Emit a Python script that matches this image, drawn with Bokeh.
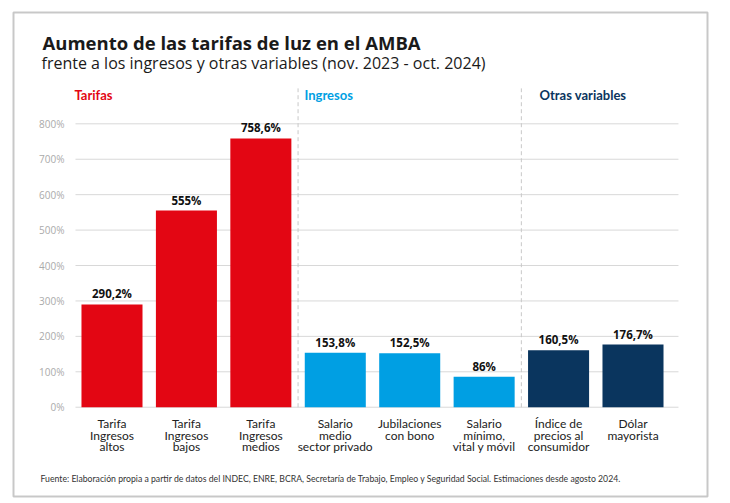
from bokeh.plotting import figure
from bokeh.models import (ColumnDataSource, Range1d, FixedTicker, Label,
                          BoxAnnotation, LinearAxis)
from bokeh.core.properties import value
from bokeh.embed import file_html
from bokeh.resources import INLINE

# ---- data ----
categories = [
    "Tarifa\nIngresos\naltos",
    "Tarifa\nIngresos\nbajos",
    "Tarifa\nIngresos\nmedios",
    "Salario\nmedio\nsector privado",
    "Jubilaciones\ncon bono",
    "Salario\nmínimo,\nvital y móvil",
    "Índice de\nprecios al\nconsumidor",
    "Dólar\nmayorista",
]
values = [290.2, 555.0, 758.6, 153.8, 152.5, 86.0, 160.5, 176.7]
value_labels = ["290,2%", "555%", "758,6%", "153,8%", "152,5%", "86%", "160,5%", "176,7%"]
groups = ["Tarifas", "Tarifas", "Tarifas", "Ingresos", "Ingresos", "Ingresos",
          "Otras variables", "Otras variables"]
y_ticks = [0, 100, 200, 300, 400, 500, 600, 700, 800]
y_tick_labels = ["0%", "100%", "200%", "300%", "400%", "500%", "600%", "700%", "800%"]

group_colors = {"Tarifas": "#E30613", "Ingresos": "#009FE3", "Otras variables": "#0A355E"}

LABEL_FONT = "Lato"
SANS = "Open Sans"

W, H = 730, 503
xs = list(range(len(categories)))
src = ColumnDataSource(dict(
    x=xs, value=values, label=value_labels,
    color=[group_colors[g] for g in groups],
))

# plot area edges (data units) used for grid lines / axis placement
X_LEFT, X_RIGHT = -0.4904, 7.611

p = figure(width=W, height=H,
           x_range=Range1d(-1.498, 8.310), y_range=Range1d(-271.8, 1148.1),
           output_backend="svg", toolbar_location=None,
           x_axis_type=None, y_axis_type=None,
           min_border_left=0, min_border_right=0,
           min_border_top=0, min_border_bottom=0)
p.title.visible = False
p.outline_line_color = None
p.background_fill_color = "white"
p.border_fill_color = "white"
p.xgrid.visible = False
p.ygrid.visible = False

# grid lines
p.segment(x0=[X_LEFT] * len(y_ticks), x1=[X_RIGHT] * len(y_ticks),
          y0=y_ticks, y1=y_ticks, line_color="#D8D8D8", line_width=1)

# separators between groups
p.segment(x0=[2.5, 5.5], x1=[2.5, 5.5], y0=[0, 0], y1=[900, 900],
          line_color="#C8C8C8", line_width=1, line_dash="4 3")

# axes fixed inside the frame
yax = LinearAxis(fixed_location=X_LEFT, ticker=FixedTicker(ticks=y_ticks),
                 major_label_overrides={t: l for t, l in zip(y_ticks, y_tick_labels)},
                 axis_line_color=None, major_tick_line_color=None,
                 minor_tick_line_color=None, major_label_standoff=5,
                 major_label_text_font=SANS, major_label_text_font_size="10px",
                 major_label_text_color="#AAAAAA")
p.add_layout(yax, "left")

xax = LinearAxis(fixed_location=0, ticker=FixedTicker(ticks=xs),
                 major_label_overrides={i: c for i, c in zip(xs, categories)},
                 axis_line_color=None, major_tick_line_color=None,
                 minor_tick_line_color=None, major_label_standoff=3,
                 major_label_text_font=LABEL_FONT, major_label_text_font_size="12px",
                 major_label_text_color="#222222", major_label_text_line_height=0.77)
p.add_layout(xax, "below")

# bars
p.vbar(x="x", top="value", width=0.82, fill_color="color", line_color=None, source=src)

# value labels
p.text(x="x", y="value", text="label", source=src, text_align="center",
       text_baseline="bottom", y_offset=-3,
       text_font=value(SANS), text_font_style="bold", text_font_size="11.5px",
       text_color="#111111")

# group headers
for hx, gname in ((74, "Tarifas"), (304, "Ingresos"), (539, "Otras variables")):
    p.add_layout(Label(x=hx, y=H - 94.5, x_units="screen", y_units="screen", text=gname,
                       text_font=LABEL_FONT, text_font_style="bold", text_font_size="13px",
                       text_color=group_colors[gname], text_baseline="alphabetic"))

# title, subtitle, footnote
p.add_layout(Label(x=42, y=H - 42, x_units="screen", y_units="screen",
                   text="Aumento de las tarifas de luz en el AMBA",
                   text_font=SANS, text_font_style="bold", text_font_size="18.5px",
                   text_color="#1A1A1A", text_baseline="alphabetic"))
p.add_layout(Label(x=41, y=H - 62, x_units="screen", y_units="screen",
                   text="frente a los ingresos y otras variables (nov. 2023 - oct. 2024)",
                   text_font=SANS, text_font_size="16px",
                   text_color="#1A1A1A", text_baseline="alphabetic"))
p.add_layout(Label(x=40, y=H - 477.5, x_units="screen", y_units="screen",
                   text="Fuente: Elaboración propia a partir de datos del INDEC, ENRE, BCRA, "
                        "Secretaría de Trabajo, Empleo y Seguridad Social. Estimaciones desde agosto 2024.",
                   text_font=LABEL_FONT, text_font_size="8.7px",
                   text_color="#333333", text_baseline="alphabetic"))

# outer frame border
p.add_layout(BoxAnnotation(left=13, right=707, top=H - 12, bottom=H - 496,
                           left_units="screen", right_units="screen",
                           top_units="screen", bottom_units="screen",
                           fill_color=None, fill_alpha=0, line_color="#4A4A4A",
                           line_width=2, level="overlay"))

open("out.html", "w").write(file_html(p, INLINE))
